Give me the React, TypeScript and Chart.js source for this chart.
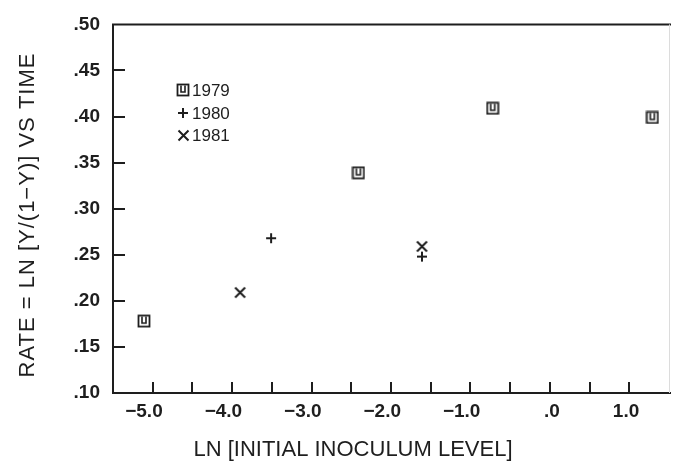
import React, { useEffect, useRef } from 'react';
import { Chart, registerables } from 'chart.js';
Chart.register(...registerables);

// Data
const years = ['1979', '1980', '1981'];
const x1979 = [-5.11, -2.41, -0.72, 1.29];
const y1979 = [0.178, 0.339, 0.409, 0.399];
const x1980 = [-3.51, -1.61];
const y1980 = [0.268, 0.248];
const x1981 = [-3.9, -1.61];
const y1981 = [0.209, 0.259];

const xMin = -5.5;
const xMax = 1.5;
const xStep = 0.5;
const yMin = 0.1;
const yMax = 0.5;
const yStep = 0.05;

const xTitle = 'LN [INITIAL INOCULUM LEVEL]';
const yTitle = 'RATE = LN [Y/(1\u2212Y)] VS TIME';

const INK = '#1e1e1e';
const FONT = '"Liberation Sans", Arial, Helvetica, sans-serif';

function makeSquare(): HTMLCanvasElement {
  const c = document.createElement('canvas');
  c.width = 14; c.height = 14;
  const g = c.getContext('2d')!;
  g.strokeStyle = INK; g.lineWidth = 1.8;
  g.strokeRect(1.5, 1.5, 11, 11);
  g.lineWidth = 1.6;
  g.beginPath();
  g.moveTo(5, 2.5); g.lineTo(5, 9); g.lineTo(9, 9); g.lineTo(9, 2.5);
  g.stroke();
  return c;
}
function makePlus(): HTMLCanvasElement {
  const c = document.createElement('canvas');
  c.width = 12; c.height = 12;
  const g = c.getContext('2d')!;
  g.strokeStyle = INK; g.lineWidth = 2;
  g.beginPath();
  g.moveTo(6, 1); g.lineTo(6, 11);
  g.moveTo(1, 6); g.lineTo(11, 6);
  g.stroke();
  return c;
}
function makeX(): HTMLCanvasElement {
  const c = document.createElement('canvas');
  c.width = 13; c.height = 13;
  const g = c.getContext('2d')!;
  g.strokeStyle = INK; g.lineWidth = 2;
  g.beginPath();
  g.moveTo(1.5, 1.5); g.lineTo(11.5, 11.5);
  g.moveTo(11.5, 1.5); g.lineTo(1.5, 11.5);
  g.stroke();
  return c;
}

function pts(xs: number[], ys: number[]) {
  return xs.map((x, i) => ({ x, y: ys[i] }));
}

export default function App() {
  const ref = useRef<HTMLCanvasElement>(null);
  useEffect(() => {
    const canvas = ref.current!;
    const markers = [makeSquare(), makePlus(), makeX()];

    const framePlugin = {
      id: 'frame',
      afterDraw(chart: any) {
        const ctx = chart.ctx as CanvasRenderingContext2D;
        const { left, right, top, bottom } = chart.chartArea;
        const xs = chart.scales.x;
        const ys = chart.scales.y;
        ctx.save();
        // frame
        ctx.strokeStyle = INK;
        ctx.lineWidth = 2;
        ctx.beginPath();
        ctx.moveTo(right + 2, top);
        ctx.lineTo(left, top);
        ctx.lineTo(left, bottom);
        ctx.lineTo(right + 2, bottom);
        ctx.stroke();
        ctx.strokeStyle = '#dcdcdc';
        ctx.lineWidth = 1;
        ctx.beginPath();
        ctx.moveTo(right + 0.5, top);
        ctx.lineTo(right + 0.5, bottom);
        ctx.stroke();
        // inward ticks
        ctx.strokeStyle = INK;
        ctx.lineWidth = 2;
        ctx.beginPath();
        ys.ticks.forEach((t: any) => {
          if (t.value > yMin + 1e-6 && t.value < yMax - 1e-6) {
            const y = Math.round(ys.getPixelForValue(t.value));
            ctx.moveTo(left, y);
            ctx.lineTo(left + 12, y);
          }
        });
        xs.ticks.forEach((t: any) => {
          if (t.value > xMin + 1e-6 && t.value < xMax - 1e-6) {
            const x = Math.round(xs.getPixelForValue(t.value));
            ctx.moveTo(x, bottom);
            ctx.lineTo(x, bottom - 11);
          }
        });
        ctx.stroke();
        // legend
        ctx.fillStyle = INK;
        ctx.font = `17px ${FONT}`;
        ctx.textBaseline = 'middle';
        ctx.textAlign = 'left';
        years.forEach((yr, i) => {
          const cy = top + 66 + i * 22.5;
          const m = markers[i];
          ctx.drawImage(m, Math.round(183 - m.width / 2), Math.round(cy - m.height / 2));
          ctx.fillText(yr, 192, cy + 1);
        });
        // axis titles
        ctx.font = `22px ${FONT}`;
        ctx.textAlign = 'center';
        ctx.textBaseline = 'middle';
        ctx.fillText(xTitle, 353, 450);
        ctx.translate(28, 215);
        ctx.rotate(-Math.PI / 2);
        (ctx as any).letterSpacing = '1px';
        ctx.fillText(yTitle, 0, 0);
        ctx.restore();
      },
    };

    const chart = new Chart(canvas, {
      type: 'scatter',
      data: {
        datasets: [
          { label: years[0], data: pts(x1979, y1979), pointStyle: markers[0] as any, pointRadius: 6, borderColor: INK, backgroundColor: INK },
          { label: years[1], data: pts(x1980, y1980), pointStyle: markers[1] as any, pointRadius: 6, borderColor: INK, backgroundColor: INK },
          { label: years[2], data: pts(x1981, y1981), pointStyle: markers[2] as any, pointRadius: 6, borderColor: INK, backgroundColor: INK },
        ],
      },
      options: {
        responsive: false,
        devicePixelRatio: 1,
        animation: false,
        layout: { padding: { left: 0, top: 20, right: 2, bottom: 0 } },
        plugins: { legend: { display: false }, tooltip: { enabled: false } },
        scales: {
          x: {
            type: 'linear',
            min: xMin,
            max: xMax,
            grid: { display: false, drawTicks: false },
            border: { display: false },
            afterFit: (s: any) => { s.height = 70; },
            ticks: {
              stepSize: xStep,
              autoSkip: false,
              maxRotation: 0,
              padding: 7,
              align: 'end',
              labelOffset: 10,
              color: INK,
              font: { family: FONT, size: 19, weight: 'bold' },
              callback: (v: any) => {
                const n = Number(v);
                if (Math.abs(n - Math.round(n)) > 1e-6) return '';
                if (Math.abs(n) < 1e-6) return '.0';
                return (n < 0 ? '\u2212' : '') + Math.abs(n).toFixed(1);
              },
            },
          },
          y: {
            type: 'linear',
            min: yMin,
            max: yMax,
            grid: { display: false, drawTicks: false },
            border: { display: false },
            afterFit: (s: any) => { s.width = 113; },
            ticks: {
              stepSize: yStep,
              autoSkip: false,
              padding: 13,
              color: INK,
              font: { family: FONT, size: 19, weight: 'bold' },
              callback: (v: any) => Number(v).toFixed(2).replace(/^0/, ''),
            },
          },
        },
      },
      plugins: [framePlugin],
    });
    return () => chart.destroy();
  }, []);

  return (
    <div style={{ position: 'fixed', left: 0, top: 0, width: 676, height: 463, background: '#fff' }}>
      <canvas ref={ref} width={676} height={463} style={{ width: 676, height: 463, display: 'block' }} />
    </div>
  );
}
